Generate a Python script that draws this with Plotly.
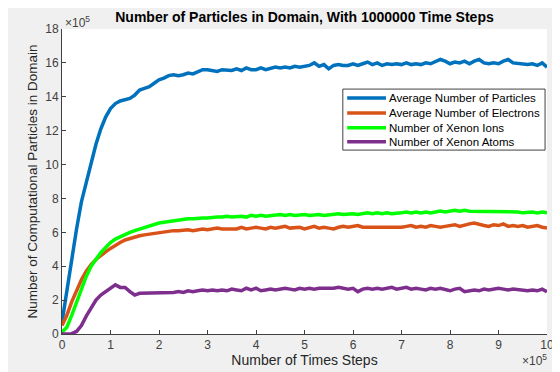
import plotly.graph_objects as go

# x in units of 1e5 time steps, y in units of 1e5 particles
steps_e5 = [round(i * 0.1, 1) for i in range(101)]

avg_particles = [
    0.7, 2.6, 4.4, 6.2, 7.8, 9.0, 10.2, 11.2, 12.1, 12.8,
    13.3, 13.6, 13.75, 13.85, 13.9, 14.1, 14.4, 14.5, 14.6, 14.8,
    15.0, 15.1, 15.25, 15.3, 15.25, 15.3, 15.4, 15.35, 15.5, 15.6,
    15.6, 15.55, 15.5, 15.6, 15.6, 15.55, 15.65, 15.55, 15.7, 15.6,
    15.6, 15.7, 15.6, 15.65, 15.75, 15.7, 15.75, 15.7, 15.8, 15.75,
    15.8, 15.85, 16.0, 15.8, 15.9, 15.65, 15.85, 15.9, 15.85, 15.85,
    15.95, 15.85, 15.95, 16.05, 15.9, 16.0, 15.85, 15.95, 15.9, 15.95,
    15.9, 16.0, 15.9, 15.95, 15.9, 16.0, 15.95, 16.05, 16.2, 16.1,
    15.95, 16.05, 16.0, 16.1, 15.95, 16.1, 16.2, 16.0, 15.95, 16.0,
    15.95, 16.1, 16.2, 16.0, 15.95, 15.95, 15.9, 15.95, 15.85, 16.0,
    15.75,
]
avg_electrons = [
    0.5, 1.1, 1.9, 2.6, 3.2, 3.7, 4.1, 4.4, 4.65, 4.85,
    5.05, 5.25, 5.4, 5.55, 5.65, 5.75, 5.8, 5.85, 5.9, 5.95,
    6.0, 6.05, 6.05, 6.1, 6.1, 6.15, 6.15, 6.1, 6.15, 6.2,
    6.15, 6.2, 6.25, 6.2, 6.2, 6.25, 6.2, 6.3, 6.2, 6.25,
    6.3, 6.25, 6.2, 6.3, 6.25, 6.3, 6.35, 6.25, 6.3, 6.3,
    6.2, 6.3, 6.35, 6.25, 6.3, 6.25, 6.2, 6.3, 6.35, 6.3,
    6.35, 6.4, 6.3, 6.3, 6.25, 6.3, 6.25, 6.25, 6.3, 6.25,
    6.3, 6.35, 6.4, 6.3, 6.35, 6.3, 6.4, 6.35, 6.3, 6.35,
    6.4, 6.45, 6.35, 6.45, 6.5, 6.55, 6.45, 6.4, 6.35, 6.45,
    6.4, 6.5, 6.35, 6.4, 6.35, 6.4, 6.3, 6.35, 6.4, 6.3,
    6.25,
]
xenon_ions = [
    0.1, 0.4, 1.1, 1.9, 2.7, 3.4, 4.0, 4.4, 4.8, 5.1,
    5.4, 5.6, 5.75, 5.9, 6.0, 6.1, 6.2, 6.3, 6.4, 6.5,
    6.55, 6.6, 6.65, 6.7, 6.75, 6.75, 6.8, 6.8, 6.85, 6.85,
    6.85, 6.9, 6.9, 6.9, 6.95, 6.9, 6.95, 6.95, 6.9, 7.0,
    6.95, 7.0, 6.95, 7.0, 7.0, 7.05, 7.0, 7.05, 7.0, 7.05,
    7.05, 7.0, 7.05, 7.05, 7.0, 7.05, 7.05, 7.1, 7.05, 7.1,
    7.1, 7.05, 7.1, 7.15, 7.1, 7.15, 7.1, 7.15, 7.1, 7.1,
    7.15, 7.2, 7.15, 7.2, 7.15, 7.2, 7.15, 7.2, 7.25, 7.2,
    7.25, 7.3, 7.25, 7.3, 7.25, 7.25, 7.2, 7.2, 7.25, 7.2,
    7.2, 7.25, 7.2, 7.25, 7.2, 7.15, 7.2, 7.2, 7.15, 7.2,
    7.15,
]
xenon_atoms = [
    0.0, 0.0, 0.02, 0.15, 0.5, 1.05, 1.55, 2.0, 2.3, 2.5,
    2.75, 2.9, 2.75, 2.75, 2.5, 2.3, 2.4, 2.4, 2.45, 2.4,
    2.45, 2.4, 2.4, 2.45, 2.5, 2.45, 2.55, 2.5, 2.55, 2.6,
    2.55, 2.6, 2.55, 2.6, 2.55, 2.65, 2.6, 2.55, 2.7, 2.6,
    2.7, 2.55, 2.6, 2.65, 2.6, 2.65, 2.7, 2.65, 2.6, 2.7,
    2.65, 2.7, 2.65, 2.7, 2.7, 2.65, 2.7, 2.75, 2.7, 2.65,
    2.7, 2.5, 2.65, 2.7, 2.65, 2.7, 2.65, 2.7, 2.75, 2.65,
    2.7, 2.75, 2.65, 2.7, 2.65, 2.6, 2.7, 2.65, 2.7, 2.6,
    2.55, 2.65, 2.7, 2.5, 2.55, 2.6, 2.55, 2.65, 2.6, 2.65,
    2.7, 2.65, 2.6, 2.65, 2.6, 2.6, 2.55, 2.6, 2.55, 2.65,
    2.5,
]

series_names = [
    "Average Number of Particles",
    "Average Number of Electrons",
    "Number of Xenon Ions",
    "Number of Xenon Atoms",
]
series_values = [avg_particles, avg_electrons, xenon_ions, xenon_atoms]
series_colors = ["#0072BD", "#D95319", "#00FF00", "#7E2F8E"]

x_ticks = list(range(0, 11))
y_ticks = list(range(0, 19, 2))

fig = go.Figure()
for name, vals, col in zip(series_names, series_values, series_colors):
    fig.add_trace(go.Scatter(x=steps_e5, y=vals, mode="lines", name=name,
                             line=dict(color=col, width=3.5), showlegend=False))

font_fam = "Liberation Sans, Arial, sans-serif"
axis_common = dict(showgrid=False, zeroline=False, showline=True, linecolor="#404040",
                   linewidth=1, ticks="inside", ticklen=4, tickcolor="#404040",
                   tickfont=dict(family=font_fam, size=12, color="#404040"),
                   mirror=False, automargin=False)

# page has an 8px body margin; figure fills the rest of the 560x372 window
W, H = 552, 364
fig.update_layout(
    width=W, height=H,
    paper_bgcolor="#f0f0f0", plot_bgcolor="white",
    margin=dict(l=54, r=13, t=21, b=38, autoexpand=False),
    font=dict(family=font_fam, color="#262626"),
    title=dict(text="<b>Number of Particles in Domain, With 1000000 Time Steps</b>",
               x=(54 + 539) / 2 / W, xanchor="center", y=1 - 9 / H, yanchor="middle",
               font=dict(size=14, color="black", family=font_fam)),
    xaxis=dict(range=[0, 10], tickvals=x_ticks, ticktext=[str(v) for v in x_ticks],
               title=dict(text="Number of Times Steps", standoff=2,
                          font=dict(size=14, color="#262626")), **axis_common),
    yaxis=dict(range=[0, 18], tickvals=y_ticks, ticktext=[str(v) for v in y_ticks],
               title=dict(text="Number of Computational Particles in Domain", standoff=4,
                          font=dict(size=13.5, color="#262626")), **axis_common),
    showlegend=False,
)

# legend box (MATLAB style, compact)
box_x0, box_x1, box_y0, box_y1 = 0.579, 0.996, 0.603, 0.803
fig.add_shape(type="rect", xref="paper", yref="paper", x0=box_x0, x1=box_x1,
              y0=box_y0, y1=box_y1, line=dict(color="#404040", width=1),
              fillcolor="white", layer="above")
entry_y = [0.774, 0.725, 0.676, 0.630]
for name, col, yy in zip(series_names, series_colors, entry_y):
    fig.add_shape(type="line", xref="paper", yref="paper", x0=0.588, x1=0.668,
                  y0=yy, y1=yy, line=dict(color=col, width=3.5), layer="above")
    fig.add_annotation(xref="paper", yref="paper", x=0.671, y=yy, xanchor="left",
                       yanchor="middle", text=name, showarrow=False,
                       font=dict(size=11.5, color="black", family=font_fam))

fig.add_annotation(xref="paper", yref="paper", x=0.0, y=1.0, xanchor="left", yanchor="bottom",
                   text="×10<sup>5</sup>", showarrow=False, xshift=1, yshift=-3,
                   font=dict(size=12, color="#404040", family=font_fam))
fig.add_annotation(xref="paper", yref="paper", x=1.0, y=0.0, xanchor="right", yanchor="top",
                   text="×10<sup>5</sup>", showarrow=False, yshift=-16, xshift=2,
                   font=dict(size=12, color="#404040", family=font_fam))

fig.write_html("out.html")
